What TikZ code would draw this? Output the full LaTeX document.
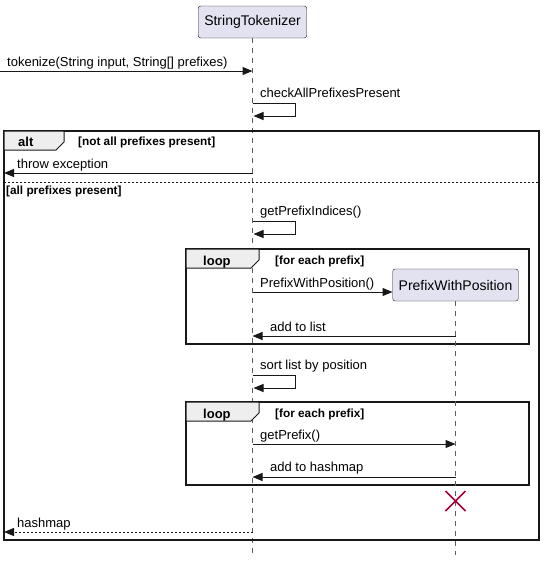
\documentclass[tikz,border=0pt]{standalone}
\usepackage{fontspec}
\setmainfont{Liberation Sans}
\usepackage{tikz}
\usetikzlibrary{arrows.meta}
\usetikzlibrary{positioning}
\definecolor{boxfill}{HTML}{E2E2F0}
\definecolor{ink}{HTML}{181818}
\definecolor{tabfill}{HTML}{EEEEEE}
\definecolor{killred}{HTML}{A80036}

\tikzset{
	actor/.style={draw=ink, fill=boxfill, rounded corners=2.5pt, minimum height=32pt, inner xsep=6pt, font=\fontsize{14}{16}\selectfont},
	life/.style={ink!70, dash pattern=on 5pt off 5pt, line width=0.5pt},
	msg/.style={ink, line width=1pt, -{Triangle[length=10pt,width=8pt]}},
	reply/.style={msg, dash pattern=on 2pt off 2pt},
	lbl/.style={anchor=base west, inner sep=0pt, font=\fontsize{13}{15}\selectfont},
	frame/.style={draw=ink, line width=1.5pt},
	tab/.style={draw=ink, fill=tabfill, line width=1pt},
	guard/.style={anchor=base west, inner sep=0pt, font=\bfseries\fontsize{11.8}{13}\selectfont}
}

\begin{document}
\begin{tikzpicture}[x=1pt, y=-1pt]
	\useasboundingbox (0,0) rectangle (545,563);
	% participants and lifelines
	\node[actor] (st) at (252.5,22) {StringTokenizer};
	\draw[life] (st.south) -- (252.5,555);
	% frames
	\draw[frame] (4,131) rectangle (539,540);
	\draw[tab] (4,131) -- (64,131) -- (64,142) -- (56,150) -- (4,150) -- cycle;
	\node[guard, font=\bfseries\fontsize{13}{15}\selectfont] (altlbl) at (18,146) {alt};
	\node[guard] (altg1) at (78,145) {[not all prefixes present]};
	\draw[ink, dash pattern=on 2pt off 2pt, line width=0.8pt] (4,182) -- (539,182);
	\node[guard] (altg2) at (6,194) {[all prefixes present]};
	\draw[frame] (186,249) rectangle (529,344);
	\draw[tab] (186,249) -- (259,249) -- (259,260) -- (251,268) -- (186,268) -- cycle;
	\node[guard, font=\bfseries\fontsize{13}{15}\selectfont] (loop1) at (203,265) {loop};
	\node[guard] (loopg1) at (275,264) {[for each prefix]};
	\draw[frame] (186,402) rectangle (529,485);
	\draw[tab] (186,402) -- (259,402) -- (259,413) -- (251,421) -- (186,421) -- cycle;
	\node[guard, font=\bfseries\fontsize{13}{15}\selectfont] (loop2) at (203,418) {loop};
	\node[guard] (loopg2) at (275,417) {[for each prefix]};
	% second participant, created in the loop
	\node[actor] (pwp) at (455.5,285) {PrefixWithPosition};
	\draw[life] (pwp.south) -- (455.5,555);
	% named points on the lifelines
	\coordinate (in) at (0,71);
	\coordinate (st1) at (252.5,71);
	\coordinate (out1) at (4,173);
	\coordinate (st2) at (252.5,173);
	\coordinate (st3) at (252.5,292);
	\coordinate (st4) at (252.5,336);
	\coordinate (pwp4) at (455.5,336);
	\coordinate (st5) at (252.5,444);
	\coordinate (pwp5) at (455.5,444);
	\coordinate (st6) at (252.5,477);
	\coordinate (pwp6) at (455.5,477);
	\coordinate (kill) at (455.5,501);
	\coordinate (out2) at (4,532);
	\coordinate (st7) at (252.5,532);
	% messages
	\draw[msg] (in) -- (st1);
	\node[lbl] (m1) at (7,66) {tokenize(String input, String[] prefixes)};
	\foreach \y/\t in {103/checkAllPrefixesPresent, 221/getPrefixIndices(), 375/sort list by position}{
		\draw[msg] (st.south |- 0,\y) -- ++(43,0) -- ++(0,13) -- ++(-42,0);
		\node[lbl] at (260,\y-6) {\t};
	}
	\draw[msg] (st2) -- (out1);
	\node[lbl] (m2) at (17,168) {throw exception};
	\draw[msg] (st3) -- (pwp.west |- st3);
	\node[lbl] (m3) at (260,287) {PrefixWithPosition()};
	\draw[msg] (pwp4) -- (st4);
	\node[lbl] (m4) at (270,331) {add to list};
	\draw[msg] (st5) -- (pwp5);
	\node[lbl] (m5) at (260,439) {getPrefix()};
	\draw[msg] (pwp6) -- (st6);
	\node[lbl] (m6) at (270,471) {add to hashmap};
	\draw[killred, line width=1.5pt] (kill) +(-10,-10) -- +(10,10) (kill) +(-10,10) -- +(10,-10);
	\draw[reply] (st7) -- (out2);
	\node[lbl] (m7) at (17,527) {hashmap};
\end{tikzpicture}
\end{document}
